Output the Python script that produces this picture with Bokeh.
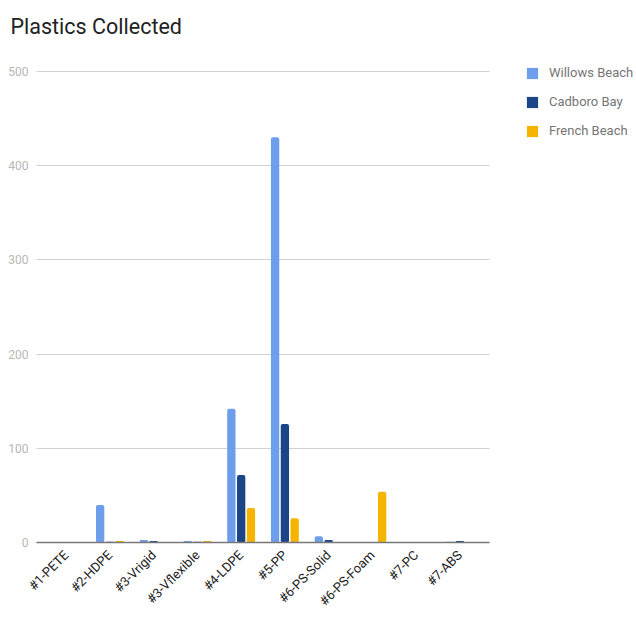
import math
from bokeh.plotting import figure
from bokeh.models import Range1d, FixedTicker, Legend, LegendItem, ColumnDataSource
from bokeh.transform import dodge
from bokeh.embed import file_html
from bokeh.resources import INLINE

categories = ["#1-PETE", "#2-HDPE", "#3-Vrigid", "#3-Vflexible", "#4-LDPE",
              "#5-PP", "#6-PS-Solid", "#6-PS-Foam", "#7-PC", "#7-ABS"]
willows = [0, 40, 3, 2, 142, 430, 7, 0, 0, 1]
cadboro = [0, 1, 2, 1, 72, 126, 3, 0, 0, 2]
french = [0, 2, 0, 2, 37, 26, 0, 54, 0, 0]
series = ["Willows Beach", "Cadboro Bay", "French Beach"]
colors = ["#6d9eeb", "#1c4587", "#f4b400"]
y_ticks = [0, 100, 200, 300, 400, 500]

positions = list(range(len(categories)))
source = ColumnDataSource(dict(pos=positions, cat=categories,
                               willows=willows, cadboro=cadboro, french=french))

# category band: each category is one unit wide, with a small padding at both ends
pad = 0.68
x_lo, x_hi = -pad, len(categories) - 1 + pad

p = figure(width=636, height=617, output_backend="svg", toolbar_location=None,
           x_range=Range1d(-1.503, 13.04), y_range=Range1d(-79.2, 517.7),
           title="Plastics Collected",
           min_border_left=0, min_border_right=0, min_border_top=54, min_border_bottom=0)

p.title.text_font = "Roboto"
p.title.text_font_size = "21.5px"
p.title.text_font_style = "normal"
p.title.text_color = "#222222"
p.title.offset = 10
p.title.standoff = 27
p.title.vertical_align = "top"

offsets = [-0.224, 0.0, 0.224]
cols = ["willows", "cadboro", "french"]
renderers = []
for off, col, color in zip(offsets, cols, colors):
    r = p.vbar(x=dodge("pos", off), top=col, bottom=0, width=0.19, source=source,
               fill_color=color, line_color=None, border_radius=2)
    renderers.append(r)

p.outline_line_color = None
p.xgrid.grid_line_color = None
p.ygrid.grid_line_color = "#d0d0d0"
p.ygrid.cross_bounds = (x_lo, x_hi)

p.yaxis.fixed_location = x_lo
p.yaxis.ticker = FixedTicker(ticks=y_ticks)
p.yaxis.axis_line_color = None
p.yaxis.major_tick_line_color = None
p.yaxis.major_tick_out = 0
p.yaxis.minor_tick_line_color = None
p.yaxis.major_label_text_font = "Roboto"
p.yaxis.major_label_text_font_size = "12px"
p.yaxis.major_label_text_color = "#b7b7b7"
p.yaxis.major_label_standoff = 8

p.xaxis.fixed_location = 0
p.xaxis.bounds = (x_lo, x_hi)
p.xaxis.ticker = FixedTicker(ticks=positions)
p.xaxis.major_label_overrides = {i: c for i, c in zip(positions, categories)}
p.xaxis.axis_line_color = "#777777"
p.xaxis.axis_line_width = 1.5
p.xaxis.major_tick_line_color = None
p.xaxis.major_tick_out = 0
p.xaxis.minor_tick_line_color = None
p.xaxis.major_label_orientation = math.pi / 4
p.xaxis.major_label_text_font = "Roboto"
p.xaxis.major_label_text_font_size = "13px"
p.xaxis.major_label_text_color = "#222222"
p.xaxis.major_label_standoff = 10

legend = Legend(items=[LegendItem(label=s, renderers=[r]) for s, r in zip(series, renderers)],
                location=(525, 479), orientation="vertical",
                glyph_width=14, glyph_height=14, label_standoff=10, spacing=14,
                padding=0, margin=0, border_line_color=None, background_fill_alpha=0,
                label_text_font="Roboto", label_text_font_size="13px", label_text_color="#757575")
p.add_layout(legend)

open("out.html", "w").write(file_html(p, INLINE))
